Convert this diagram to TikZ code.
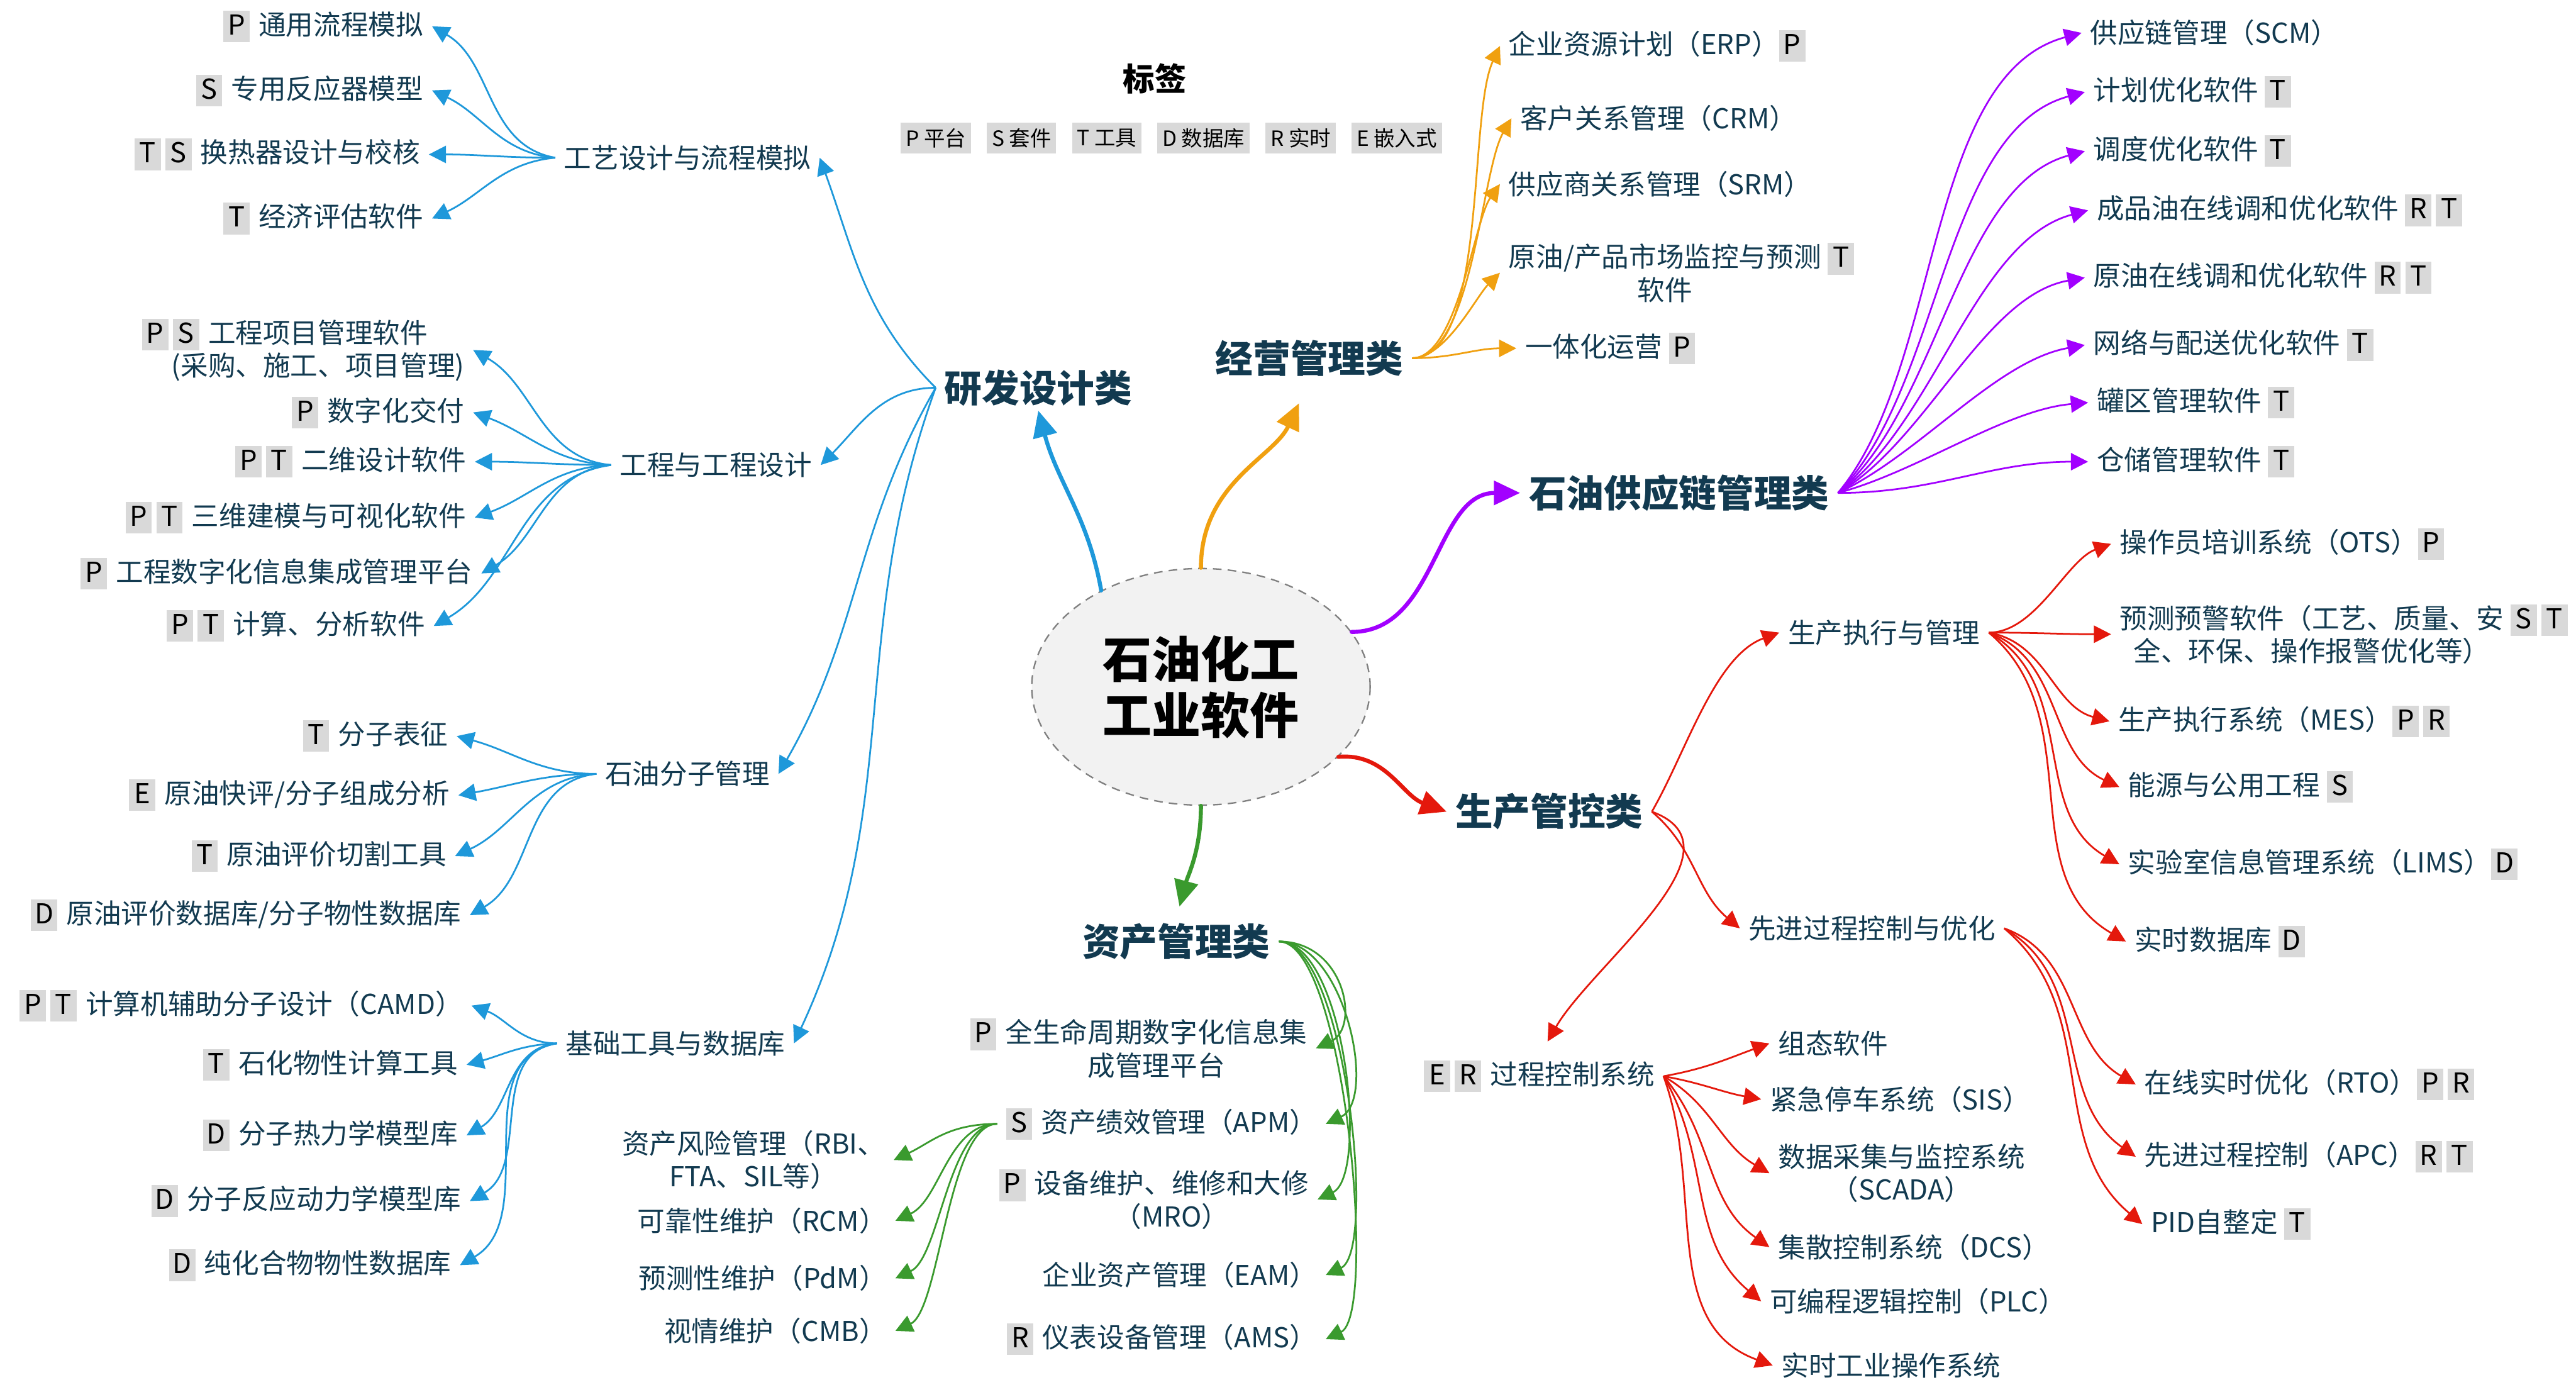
\documentclass[tikz,border=0pt]{standalone}
\usepackage{fontspec}
\setmainfont{Noto Sans CJK SC}
\usetikzlibrary{positioning,arrows.meta,shapes.geometric}
\definecolor{pcBlue}{RGB}{30,152,218}
\definecolor{pcOrange}{RGB}{240,160,16}
\definecolor{pcPurple}{RGB}{162,0,255}
\definecolor{pcRed}{RGB}{228,24,12}
\definecolor{pcGreen}{RGB}{58,154,46}
\definecolor{pcText}{RGB}{18,58,80}
\definecolor{pcTag}{RGB}{217,217,217}
\definecolor{pcRoot}{RGB}{242,242,242}
\newcommand{\tg}[1]{{\setlength{\fboxsep}{0.25mm}\colorbox{pcTag}{\rule[-0.65mm]{0pt}{3.35mm}\makebox[2.7mm]{\color{black}#1}}}}
\newcommand{\tgap}{\hspace{1.1mm}}
\tikzset{
    base/.style={align=center, text=pcText, inner xsep=1mm, inner ysep=0.5mm,
                 font=\fontsize{9.5}{11.4}\selectfont},
    root/.style={base, ellipse, draw=gray, dash pattern=on 1.05mm off 0.75mm, line width=0.5pt,
                 fill=pcRoot, text=black, minimum width=41.2mm, minimum height=28.8mm,
                 font=\fontsize{17}{19.4}\selectfont\bfseries},
    topic/.style={base, font=\fontsize{13}{15}\selectfont\bfseries},
    leaf/.style={base},
    legendbox/.style={base, fill=pcTag, text=black, inner xsep=0.6mm, inner ysep=0mm,
                      minimum height=3.8mm, font=\fontsize{7.3}{8}\selectfont},
    link/.style={line width=0.6pt, -{Triangle[length=2.1mm,width=2.1mm]}},
    trunk/.style={line width=1.4pt, line cap=round, -{Triangle[length=3.2mm,width=2.9mm]}}
}
\begin{document}
\begin{tikzpicture}[x=0.2mm, y=0.2mm]
  \useasboundingbox (0,0) rectangle (1568,-850);

  % Root and main topics
  \node[root] (root) at (731,-418) {石油化工\\工业软件};
  \node[topic] (yan) at (632,-236) {研发设计类};
  \node[topic] (jing) at (797,-218) {经营管理类};
  \node[topic] (gong) at (1022,-300) {石油供应链管理类};
  \node[topic] (sheng) at (943,-494) {生产管控类};
  \node[topic] (zi) at (716,-573) {资产管理类};

  \draw[trunk, pcBlue] (root.136) to[out=100,in=-75] (yan.south);
  \draw[trunk, pcOrange, shorten >=3mm] (root.north) to[out=90,in=-115] (jing.south);
  \draw[trunk, pcPurple] (root.20) to[out=0,in=180] (gong.west);
  \draw[trunk, pcRed] (root.-27) to[out=5,in=160] (sheng.west);
  \draw[trunk, pcGreen, shorten >=1.5mm] (root.south) to[out=-90,in=75] (zi.north);

  % Legend
  \node[font=\fontsize{11}{13}\selectfont\bfseries] (lgTitle) at (703,-48) {标签};
  \node[legendbox, anchor=west] (lgP) at (548,-84) {P 平台};
  \node[legendbox, right=1.8mm of lgP] (lgS) {S 套件};
  \node[legendbox, right=1.8mm of lgS] (lgT) {T 工具};
  \node[legendbox, right=1.8mm of lgT] (lgD) {D 数据库};
  \node[legendbox, right=1.8mm of lgD] (lgR) {R 实时};
  \node[legendbox, right=1.8mm of lgR] (lgE) {E 嵌入式};

  % R&D design
  \node[leaf, anchor=west] (gy) at (338,-96) {工艺设计与流程模拟};
  \node[leaf, anchor=west] (gc) at (372,-283) {工程与工程设计};
  \node[leaf, anchor=west] (sy) at (363,-471) {石油分子管理};
  \node[leaf, anchor=west] (jc) at (339,-635) {基础工具与数据库};
  \draw[link, pcBlue] (yan.west) to[out=135,in=-70] (gy.east);
  \draw[link, pcBlue] (yan.west) to[out=180,in=45] (gc.east);
  \draw[link, pcBlue] (yan.west) to[out=-120,in=60] (sy.east);
  \draw[link, pcBlue] (yan.west) to[out=-110,in=65] (jc.east);

  \node[leaf, anchor=east] (l1) at (263,-16) {\tg{P}\tgap 通用流程模拟};
  \node[leaf, anchor=east] (l2) at (263,-55) {\tg{S}\tgap 专用反应器模型};
  \node[leaf, anchor=east] (l3) at (261,-94) {\tg{T}\,\tg{S}\tgap 换热器设计与校核};
  \node[leaf, anchor=east] (l4) at (263,-133) {\tg{T}\tgap 经济评估软件};
  \draw[link, pcBlue] (gy.west) to[out=170,in=-30] (l1.east);
  \draw[link, pcBlue] (gy.west) to[out=175,in=-25] (l2.east);
  \draw[link, pcBlue] (gy.west) to[out=180,in=0] (l3.east);
  \draw[link, pcBlue] (gy.west) to[out=185,in=25] (l4.east);

  \node[leaf, anchor=east] (e1) at (288,-213) {\llap{\tg{P}\,\tg{S}\tgap}工程项目管理软件\\(采购、施工、项目管理)};
  \node[leaf, anchor=east] (e2) at (288,-251) {\tg{P}\tgap 数字化交付};
  \node[leaf, anchor=east] (e3) at (289,-281) {\tg{P}\,\tg{T}\tgap 二维设计软件};
  \node[leaf, anchor=east] (e4) at (289,-315) {\tg{P}\,\tg{T}\tgap 三维建模与可视化软件};
  \node[leaf, anchor=east] (e5) at (293,-349) {\tg{P}\tgap 工程数字化信息集成管理平台};
  \node[leaf, anchor=east] (e6) at (264,-381) {\tg{P}\,\tg{T}\tgap 计算、分析软件};
  \draw[link, pcBlue] (gc.west) to[out=175,in=-30] (e1.east);
  \draw[link, pcBlue] (gc.west) to[out=178,in=-20] (e2.east);
  \draw[link, pcBlue] (gc.west) to[out=180,in=0] (e3.east);
  \draw[link, pcBlue] (gc.west) to[out=182,in=20] (e4.east);
  \draw[link, pcBlue] (gc.west) to[out=185,in=30] (e5.east);
  \draw[link, pcBlue] (gc.west) to[out=188,in=30] (e6.east);

  \node[leaf, anchor=east] (m1) at (278,-448) {\tg{T}\tgap 分子表征};
  \node[leaf, anchor=east] (m2) at (279,-484) {\tg{E}\tgap 原油快评/分子组成分析};
  \node[leaf, anchor=east] (m3) at (277,-521) {\tg{T}\tgap 原油评价切割工具};
  \node[leaf, anchor=east] (m4) at (286,-557) {\tg{D}\tgap 原油评价数据库/分子物性数据库};
  \draw[link, pcBlue] (sy.west) to[out=180,in=-15] (m1.east);
  \draw[link, pcBlue] (sy.west) to[out=180,in=10] (m2.east);
  \draw[link, pcBlue] (sy.west) to[out=183,in=25] (m3.east);
  \draw[link, pcBlue] (sy.west) to[out=186,in=30] (m4.east);

  \node[leaf, anchor=east] (b1) at (287,-612) {\tg{P}\,\tg{T}\tgap 计算机辅助分子设计（CAMD）};
  \node[leaf, anchor=east] (b2) at (284,-648) {\tg{T}\tgap 石化物性计算工具};
  \node[leaf, anchor=east] (b3) at (284,-691) {\tg{D}\tgap 分子热力学模型库};
  \node[leaf, anchor=east] (b4) at (286,-731) {\tg{D}\tgap 分子反应动力学模型库};
  \node[leaf, anchor=east] (b5) at (280,-770) {\tg{D}\tgap 纯化合物物性数据库};
  \draw[link, pcBlue] (jc.west) to[out=180,in=-20] (b1.east);
  \draw[link, pcBlue] (jc.west) to[out=182,in=15] (b2.east);
  \draw[link, pcBlue] (jc.west) to[out=185,in=30] (b3.east);
  \draw[link, pcBlue] (jc.west) to[out=188,in=30] (b4.east);
  \draw[link, pcBlue] (jc.west) to[out=190,in=30] (b5.east);

  % Business management
  \node[leaf, anchor=west] (o1) at (913,-28) {企业资源计划（ERP）\tg{P}};
  \node[leaf, anchor=west] (o2) at (920,-72) {客户关系管理（CRM）};
  \node[leaf, anchor=west] (o3) at (913,-112) {供应商关系管理（SRM）};
  \node[leaf, anchor=west] (o4) at (913,-166) {原油/产品市场监控与预测\rlap{\hspace{0.8mm}\tg{T}}\\软件};
  \node[leaf, anchor=west] (o5) at (923,-212) {一体化运营\hspace{0.8mm}\tg{P}};
  \draw[link, pcOrange] (jing.east) to[out=0,in=-115,looseness=0.6] (o1.west);
  \draw[link, pcOrange] (jing.east) to[out=0,in=-120,looseness=0.6] (o2.west);
  \draw[link, pcOrange] (jing.east) to[out=0,in=-125,looseness=0.6] (o3.west);
  \draw[link, pcOrange] (jing.east) to[out=0,in=-135,looseness=0.7] (o4.west);
  \draw[link, pcOrange] (jing.east) to[out=0,in=180] (o5.west);

  % Supply chain
  \node[leaf, anchor=west] (s1) at (1267,-20) {供应链管理（SCM）};
  \node[leaf, anchor=west] (s2) at (1269,-56) {计划优化软件\hspace{0.8mm}\tg{T}};
  \node[leaf, anchor=west] (s3) at (1269,-92) {调度优化软件\hspace{0.8mm}\tg{T}};
  \node[leaf, anchor=west] (s4) at (1271,-128) {成品油在线调和优化软件\hspace{0.8mm}\tg{R}\,\tg{T}};
  \node[leaf, anchor=west] (s5) at (1269,-169) {原油在线调和优化软件\hspace{0.8mm}\tg{R}\,\tg{T}};
  \node[leaf, anchor=west] (s6) at (1269,-210) {网络与配送优化软件\hspace{0.8mm}\tg{T}};
  \node[leaf, anchor=west] (s7) at (1271,-245) {罐区管理软件\hspace{0.8mm}\tg{T}};
  \node[leaf, anchor=west] (s8) at (1271,-281) {仓储管理软件\hspace{0.8mm}\tg{T}};
  \draw[link, pcPurple] (gong.east) to[out=50,in=195,looseness=0.8] (s1.west);
  \draw[link, pcPurple] (gong.east) to[out=45,in=195,looseness=0.8] (s2.west);
  \draw[link, pcPurple] (gong.east) to[out=40,in=195,looseness=0.8] (s3.west);
  \draw[link, pcPurple] (gong.east) to[out=35,in=195,looseness=0.8] (s4.west);
  \draw[link, pcPurple] (gong.east) to[out=30,in=190,looseness=0.8] (s5.west);
  \draw[link, pcPurple] (gong.east) to[out=25,in=190,looseness=0.8] (s6.west);
  \draw[link, pcPurple] (gong.east) to[out=15,in=185,looseness=0.8] (s7.west);
  \draw[link, pcPurple] (gong.east) to[out=0,in=180] (s8.west);

  % Production control
  \node[leaf, anchor=west] (p1) at (1083,-385) {生产执行与管理};
  \node[leaf, anchor=west] (p2) at (1059,-565) {先进过程控制与优化};
  \node[leaf] (p3) at (937,-655) {\tg{E}\,\tg{R}\tgap 过程控制系统};
  \draw[link, pcRed] (sheng.east) to[out=60,in=200,looseness=0.8] (p1.west);
  \draw[link, pcRed] (sheng.east) to[out=-40,in=140] (p2.west);
  \draw[link, pcRed, shorten >=2mm] (sheng.east) to[out=-20,in=60] (p3.north);

  \node[leaf, anchor=west] (q1) at (1285,-331) {操作员培训系统（OTS）\tg{P}};
  \node[leaf, anchor=west] (q2) at (1285,-386) {预测预警软件（工艺、质量、安\rlap{\hspace{0.8mm}\tg{S}\,\tg{T}}\\全、环保、操作报警优化等）};
  \node[leaf, anchor=west] (q3) at (1284,-439) {生产执行系统（MES）\tg{P}\,\tg{R}};
  \node[leaf, anchor=west] (q4) at (1290,-479) {能源与公用工程\hspace{0.8mm}\tg{S}};
  \node[leaf, anchor=west] (q5) at (1290,-526) {实验室信息管理系统（LIMS）\tg{D}};
  \node[leaf, anchor=west] (q6) at (1294,-573) {实时数据库\hspace{0.8mm}\tg{D}};
  \draw[link, pcRed] (p1.east) to[out=0,in=200,looseness=0.8] (q1.west);
  \draw[link, pcRed] (p1.east) to[out=0,in=180] (q2.west);
  \draw[link, pcRed] (p1.east) to[out=-10,in=165] (q3.west);
  \draw[link, pcRed] (p1.east) to[out=-20,in=155] (q4.west);
  \draw[link, pcRed] (p1.east) to[out=-30,in=150] (q5.west);
  \draw[link, pcRed] (p1.east) to[out=-40,in=150] (q6.west);

  \node[leaf, anchor=west] (r1) at (1300,-660) {在线实时优化（RTO）\tg{P}\,\tg{R}};
  \node[leaf, anchor=west] (r2) at (1300,-704) {先进过程控制（APC）\tg{R}\,\tg{T}};
  \node[leaf, anchor=west] (r3) at (1304,-745) {PID自整定\hspace{0.8mm}\tg{T}};
  \draw[link, pcRed] (p2.east) to[out=-20,in=150] (r1.west);
  \draw[link, pcRed] (p2.east) to[out=-30,in=145] (r2.west);
  \draw[link, pcRed] (p2.east) to[out=-40,in=140] (r3.west);

  \node[leaf, anchor=west] (c1) at (1077,-635) {组态软件};
  \node[leaf, anchor=west] (c2) at (1072,-669) {紧急停车系统（SIS）};
  \node[leaf, anchor=west] (c3) at (1077,-714) {数据采集与监控系统\\（SCADA）};
  \node[leaf, anchor=west] (c4) at (1077,-759) {集散控制系统（DCS）};
  \node[leaf, anchor=west] (c5) at (1072,-792) {可编程逻辑控制（PLC）};
  \node[leaf, anchor=west] (c6) at (1079,-831) {实时工业操作系统};
  \draw[link, pcRed] (p3.east) to[out=10,in=200] (c1.west);
  \draw[link, pcRed] (p3.east) to[out=-10,in=170] (c2.west);
  \draw[link, pcRed] (p3.east) to[out=-30,in=150] (c3.west);
  \draw[link, pcRed] (p3.east) to[out=-50,in=145] (c4.west);
  \draw[link, pcRed] (p3.east) to[out=-60,in=140] (c5.west);
  \draw[link, pcRed] (p3.east) to[out=-70,in=160] (c6.west);

  % Asset management
  \node[leaf, anchor=east] (a1) at (801,-638) {\llap{\tg{P}\tgap}全生命周期数字化信息集\\成管理平台};
  \node[leaf, anchor=east] (a2) at (807,-684) {\tg{S}\tgap 资产绩效管理（APM）};
  \node[leaf, anchor=east] (a3) at (802,-730) {\llap{\tg{P}\tgap}设备维护、维修和大修\\（MRO）};
  \node[leaf, anchor=east] (a4) at (807,-776) {企业资产管理（EAM）};
  \node[leaf, anchor=east] (a5) at (807,-815) {\tg{R}\tgap 仪表设备管理（AMS）};
  \draw[link, pcGreen] (zi.east) to[out=0,in=25,out distance=8mm,in distance=6mm] (a1.east);
  \draw[link, pcGreen] (zi.east) to[out=0,in=25,out distance=8mm,in distance=7mm] (a2.east);
  \draw[link, pcGreen] (zi.east) to[out=0,in=25,out distance=8mm,in distance=7mm] (a3.east);
  \draw[link, pcGreen] (zi.east) to[out=0,in=25,out distance=8mm,in distance=7mm] (a4.east);
  \draw[link, pcGreen] (zi.east) to[out=0,in=25,out distance=8mm,in distance=7mm] (a5.east);

  \node[leaf, anchor=east] (d1) at (544,-706) {资产风险管理（RBI、\\FTA、SIL等）};
  \node[leaf, anchor=east] (d2) at (545,-743) {可靠性维护（RCM）};
  \node[leaf, anchor=east] (d3) at (545,-778) {预测性维护（PdM）};
  \node[leaf, anchor=east] (d4) at (545,-810) {视情维护（CMB）};
  \draw[link, pcGreen] (a2.west) to[out=180,in=25,out distance=6mm,in distance=5mm] (d1.east);
  \draw[link, pcGreen] (a2.west) to[out=180,in=25,out distance=6mm,in distance=6mm] (d2.east);
  \draw[link, pcGreen] (a2.west) to[out=180,in=25,out distance=6mm,in distance=6mm] (d3.east);
  \draw[link, pcGreen] (a2.west) to[out=180,in=25,out distance=6mm,in distance=6mm] (d4.east);
\end{tikzpicture}
\end{document}
